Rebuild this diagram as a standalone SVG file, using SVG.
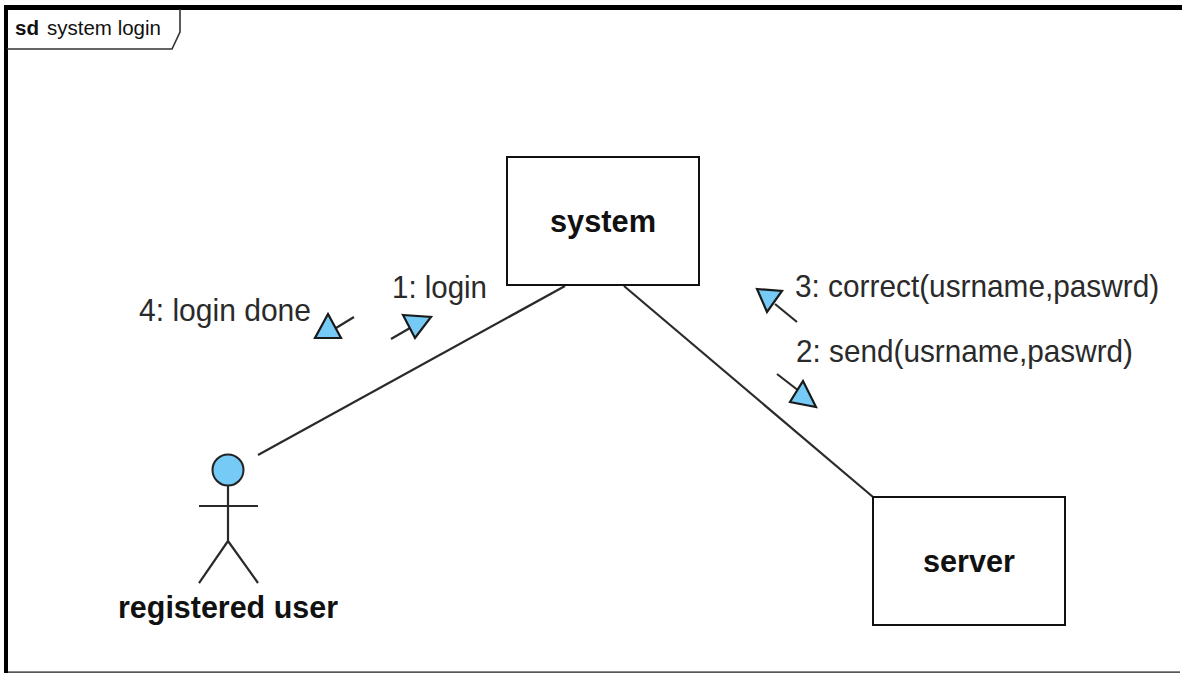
<svg xmlns="http://www.w3.org/2000/svg" width="1182" height="673" viewBox="0 0 1182 673">
<style>
text{font-family:"Liberation Sans",Arial,sans-serif;fill:#111}
.msg{font-size:32px;fill:#2a2a2a}
.name{font-size:31px;font-weight:bold;fill:#111}
.ln{fill:none;stroke:#2a2a2a;stroke-width:2.2}
.arr{fill:#75cbf5;stroke:#1a1a1a;stroke-width:2.2;stroke-linejoin:miter}
.box{fill:#fff;stroke:#111;stroke-width:2}
</style>
<rect width="1182" height="673" fill="#fff"/>
<g id="frame">
<rect x="4" y="5" width="1178" height="5" fill="#000"/>
<rect x="4" y="5" width="4" height="668" fill="#000"/>
<rect x="8" y="671.500" width="1172" height="1.200" fill="#111"/>
<path d="M7 49H172L180 32V9" fill="none" stroke="#333" stroke-width="1.600"/>
<text x="15" y="35" font-size="20" font-weight="bold" fill="#222" textLength="24" lengthAdjust="spacingAndGlyphs">sd</text>
<text x="47" y="35" font-size="20" fill="#444" textLength="114" lengthAdjust="spacingAndGlyphs">system login</text>
</g>
<g id="connectors">
<line class="ln" x1="258" y1="455" x2="565" y2="286"/>
<line class="ln" x1="624" y1="286" x2="873" y2="497"/>
<g id="msg1"><line class="ln" x1="391" y1="339" x2="410" y2="328"/><polygon class="arr" points="403,315 431,317 415,338"/></g>
<g id="msg4"><line class="ln" x1="354" y1="317" x2="336" y2="328"/><polygon class="arr" points="328,314 341,338 315,338"/></g>
<g id="msg3"><line class="ln" x1="797" y1="322" x2="775" y2="304"/><polygon class="arr" points="757,289 782,291 767,312"/></g>
<g id="msg2"><line class="ln" x1="777" y1="374" x2="799" y2="391"/><polygon class="arr" points="803,381 816,407 790,402"/></g>
<text class="msg" x="139" y="321" textLength="172" lengthAdjust="spacingAndGlyphs">4: login done</text>
<text class="msg" x="392" y="298" textLength="95" lengthAdjust="spacingAndGlyphs">1: login</text>
<text class="msg" transform="translate(795 297) scale(.845 1)" x="0" y="0" textLength="431" lengthAdjust="spacingAndGlyphs">3: correct(usrname,paswrd)</text>
<text class="msg" x="796" y="362" textLength="337" lengthAdjust="spacingAndGlyphs">2: send(usrname,paswrd)</text>
</g>
<g id="system">
<rect class="box" x="507" y="157" width="192" height="128"/>
<text class="name" x="603" y="232" text-anchor="middle" textLength="106" lengthAdjust="spacingAndGlyphs">system</text>
</g>
<g id="server">
<rect class="box" x="873" y="497" width="192" height="128"/>
<text class="name" x="969" y="572" text-anchor="middle" textLength="92" lengthAdjust="spacingAndGlyphs">server</text>
</g>
<g id="registered-user">
<circle cx="228" cy="470" r="15.500" fill="#75cbf5" stroke="#222" stroke-width="2"/>
<path class="ln" d="M228 486V541M199 506H258M199 583L228 541L258 583"/>
<text class="name" x="228" y="618" text-anchor="middle" textLength="220" lengthAdjust="spacingAndGlyphs">registered user</text>
</g>
</svg>
